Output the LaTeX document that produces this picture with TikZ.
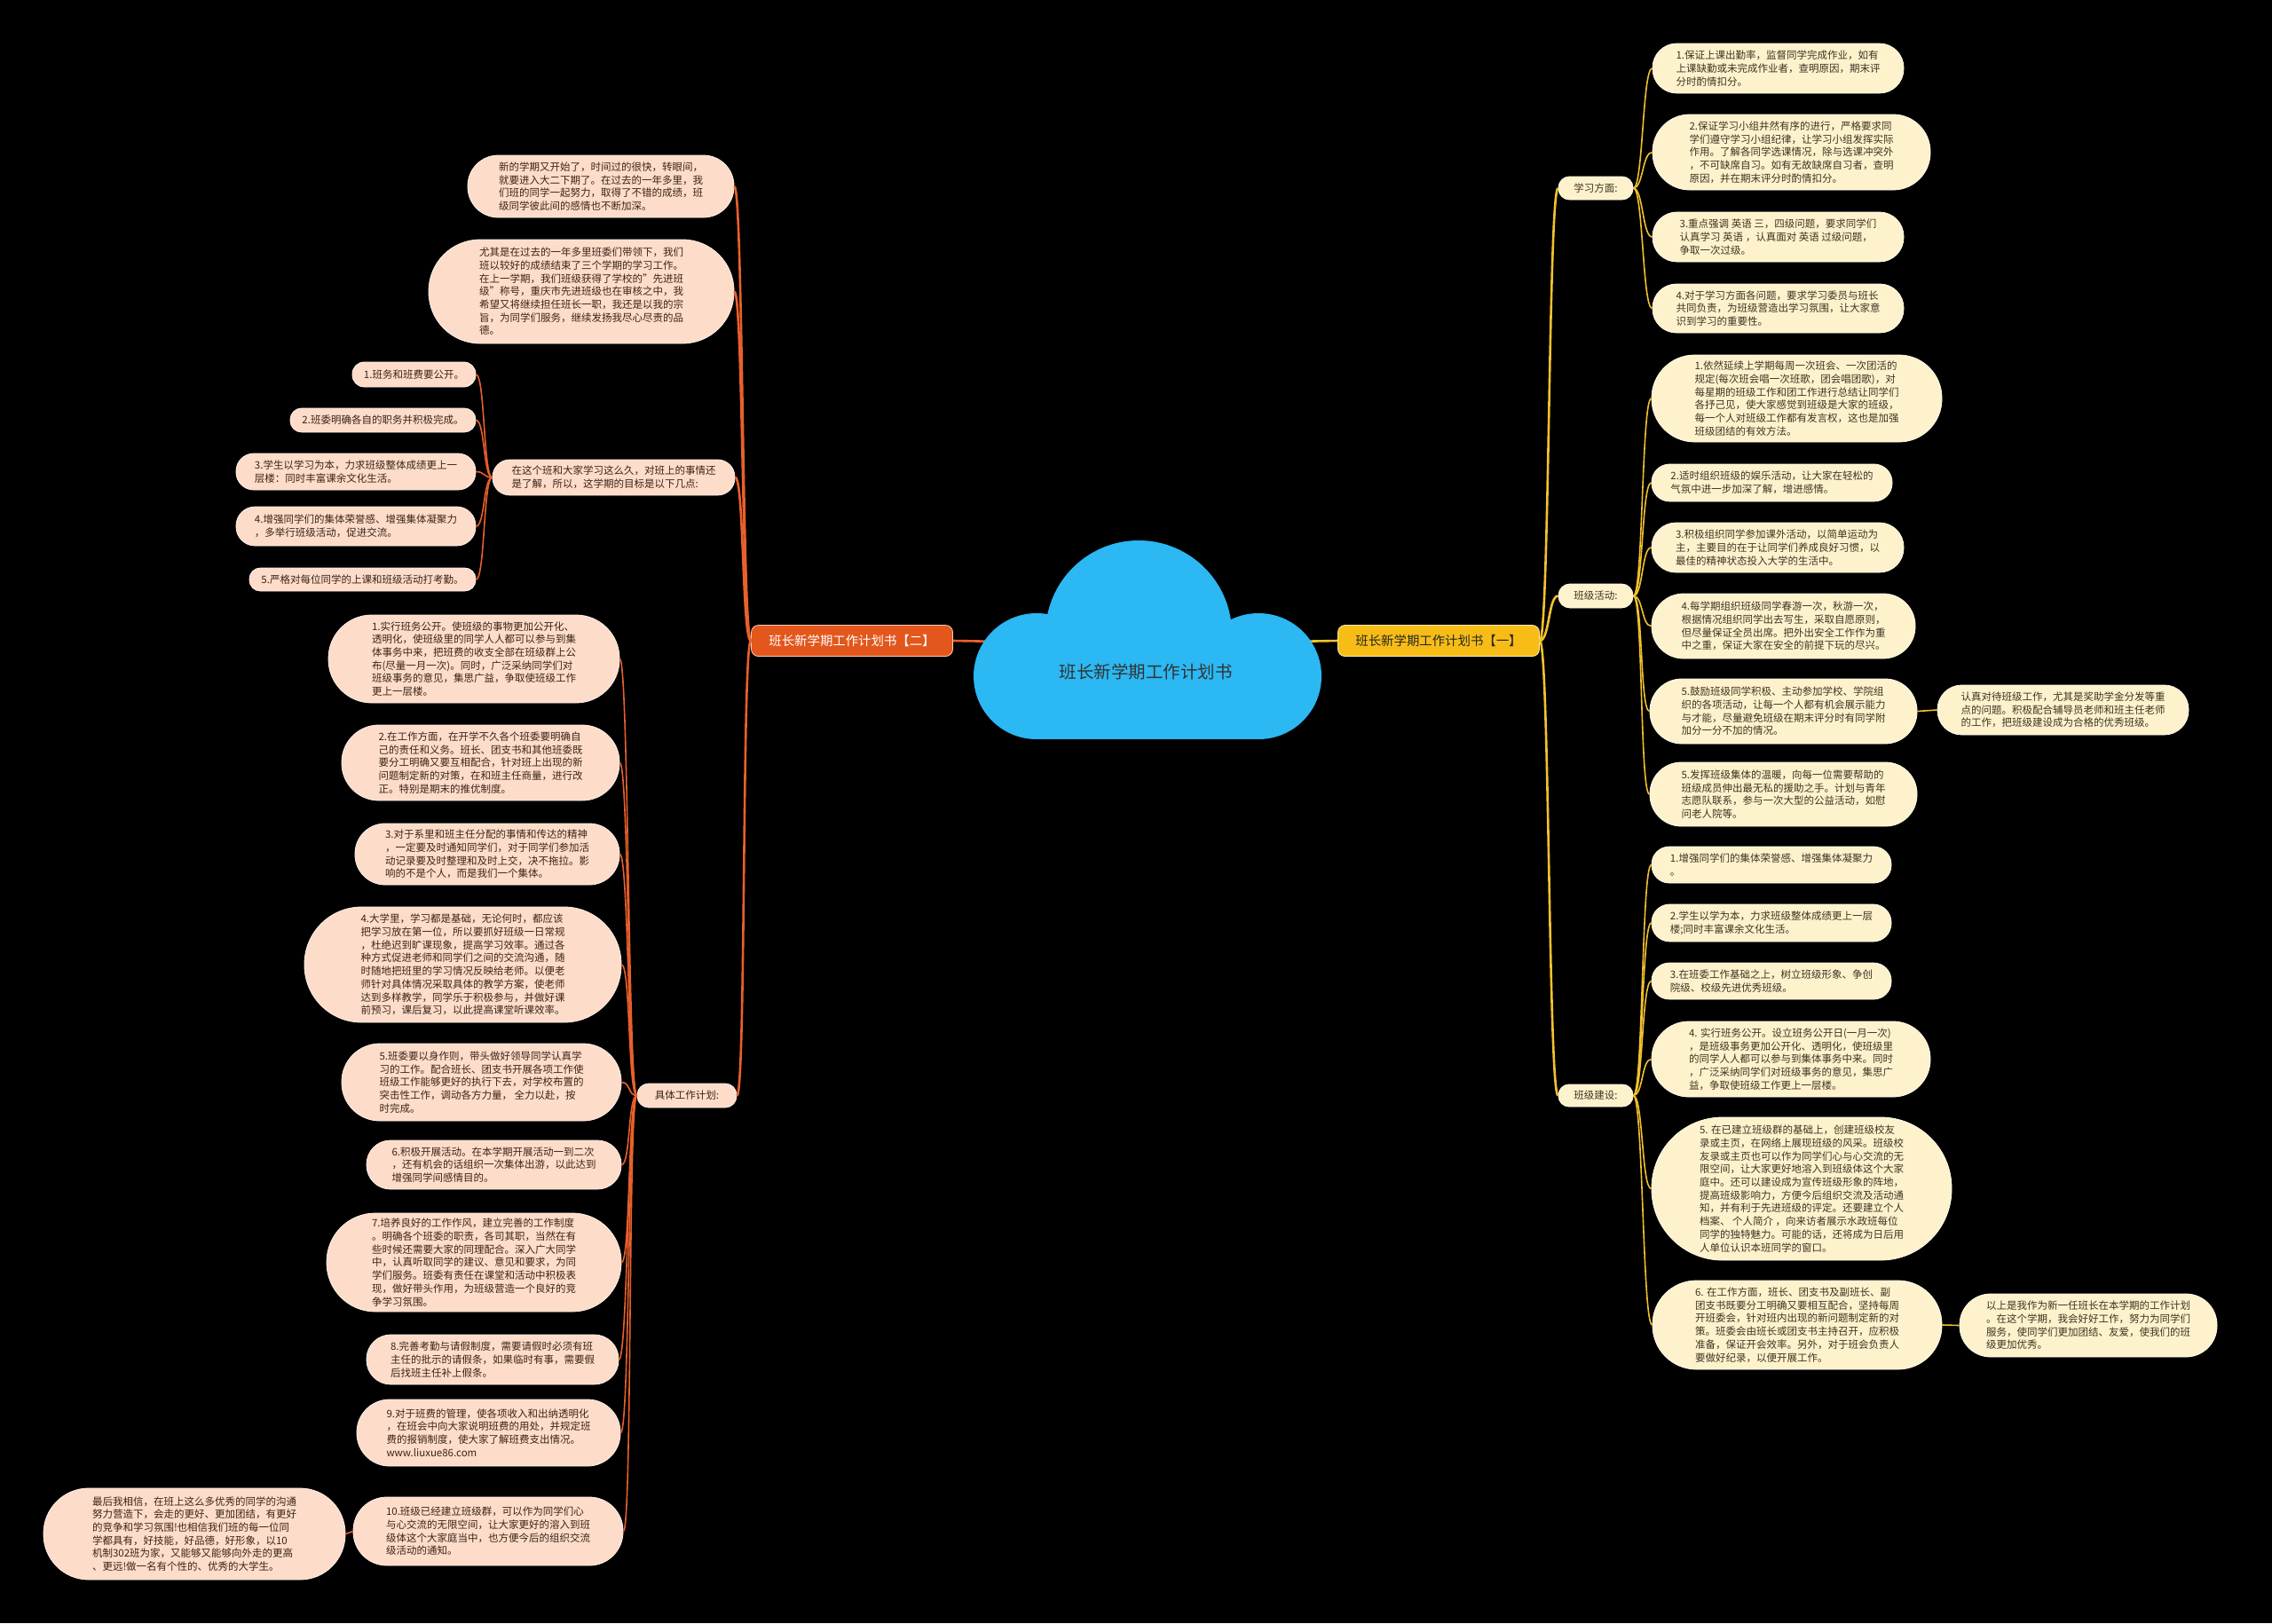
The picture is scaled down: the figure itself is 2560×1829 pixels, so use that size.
\documentclass[tikz,border=0pt]{standalone}
\usepackage{fontspec}
\setmainfont{Noto Sans CJK SC}
\definecolor{lfill}{HTML}{FDDCC9}
\definecolor{lbord}{HTML}{FFF1E8}
\definecolor{ltext}{HTML}{3A2418}
\definecolor{lline}{HTML}{E8602C}
\definecolor{rfill}{HTML}{FEF2CD}
\definecolor{rbord}{HTML}{FFFBEA}
\definecolor{rtext}{HTML}{3D3420}
\definecolor{rline}{HTML}{F2C12E}
\definecolor{mtwo}{HTML}{E3561C}
\definecolor{mone}{HTML}{F7BD16}
\definecolor{cloudc}{HTML}{2BB8F3}
\newcommand\mm[7]{\node[#1, minimum width={#5-#3}, minimum height={#6-#4}, rounded corners={(#6-#4)/2-0.6}] (#2) at ({(#3+#5)/2},{(#4+#6)/2}) {#7};}
\begin{document}
\begin{tikzpicture}[x=1pt,y=-1pt,
  every node/.style={inner sep=0pt, align=left, font=\fontsize{11.5}{14.7}\selectfont},
  lbox/.style={fill=lfill, draw=lbord, line width=0.8pt, text=ltext},
  rbox/.style={fill=rfill, draw=rbord, line width=0.8pt, text=rtext},
  lc1/.style={draw=lline, line width=2.6pt},
  lc2/.style={draw=lline, line width=1.6pt},
  rc1/.style={draw=rline, line width=2.6pt},
  rc2/.style={draw=rline, line width=1.6pt},
  mainbox/.style={minimum width=227, minimum height=35, rounded corners=8, line width=0.8pt, align=center, font=\fontsize{14.4}{17}\selectfont}
]
\fill[black] (0,0) rectangle (2560,1829);
\useasboundingbox (0,0) rectangle (2560,1829);

% main nodes
\node[mainbox, fill=mtwo, draw=white!70!mtwo, text=white] (M2) at (960,722) {班长新学期工作计划书【二】};
\node[mainbox, fill=mone, draw=white!70!mone, text=black!85] (M1) at (1621,722) {班长新学期工作计划书【一】};
\coordinate (cloudL) at (1130,723);
\coordinate (cloudR) at (1455,723);

% ---------- left side ----------
\mm{lbox}{L1}{527}{175}{827}{245}{新的学期又开始了，时间过的很快，转眼间，\\就要进入大二下期了。在过去的一年多里，我\\们班的同学一起努力，取得了不错的成绩，班\\级同学彼此间的感情也不断加深。}
\mm{lbox}{L2}{483}{270}{827}{387}{尤其是在过去的一年多里班委们带领下，我们\\班以较好的成绩结束了三个学期的学习工作。\\在上一学期，我们班级获得了学校的"先进班\\级"称号，重庆市先进班级也在审核之中，我\\希望又将继续担任班长一职，我还是以我的宗\\旨，为同学们服务，继续发扬我尽心尽责的品\\德。}
\mm{lbox}{L3}{555}{518}{828}{558}{在这个班和大家学习这么久，对班上的事情还\\是了解，所以，这学期的目标是以下几点:}
\mm{lbox}{L3a}{397}{408}{536}{436}{1.班务和班费要公开。}
\mm{lbox}{L3b}{327}{460}{536}{487}{2.班委明确各自的职务并积极完成。}
\mm{lbox}{L3c}{266}{511}{536}{552}{3.学生以学习为本，力求班级整体成绩更上一\\层楼：同时丰富课余文化生活。}
\mm{lbox}{L3d}{266}{571}{536}{615}{4.增强同学们的集体荣誉感、增强集体凝聚力\\，多举行班级活动，促进交流。}
\mm{lbox}{L3e}{281}{640}{536}{666}{5.严格对每位同学的上课和班级活动打考勤。}
\mm{lbox}{L4}{718}{1221}{830}{1248}{具体工作计划:}
\mm{lbox}{D1}{370}{693}{698}{792}{1.实行班务公开。使班级的事物更加公开化、\\透明化，使班级里的同学人人都可以参与到集\\体事务中来，把班费的收支全部在班级群上公\\布(尽量一月一次)。同时，广泛采纳同学们对\\班级事务的意见，集思广益，争取使班级工作\\更上一层楼。}
\mm{lbox}{D2}{385}{817}{698}{902}{2.在工作方面，在开学不久各个班委要明确自\\己的责任和义务。班长、团支书和其他班委既\\要分工明确又要互相配合，针对班上出现的新\\问题制定新的对策，在和班主任商量，进行改\\正。特别是期末的推优制度。}
\mm{lbox}{D3}{400}{928}{698}{997}{3.对于系里和班主任分配的事情和传达的精神\\，一定要及时通知同学们，对于同学们参加活\\动记录要及时整理和及时上交，决不拖拉。影\\响的不是个人，而是我们一个集体。}
\mm{lbox}{D4}{343}{1022}{700}{1152}{4.大学里，学习都是基础，无论何时，都应该\\把学习放在第一位，所以要抓好班级一日常规\\，杜绝迟到旷课现象，提高学习效率。通过各\\种方式促进老师和同学们之间的交流沟通，随\\时随地把班里的学习情况反映给老师。以便老\\师针对具体情况采取具体的教学方案，使老师\\达到多样教学，同学乐于积极参与，并做好课\\前预习，课后复习，以此提高课堂听课效率。}
\mm{lbox}{D5}{385}{1176}{700}{1263}{5.班委要以身作则，带头做好领导同学认真学\\习的工作。配合班长、团支书开展各项工作使\\班级工作能够更好的执行下去，对学校布置的\\突击性工作，调动各方力量， 全力以赴，按\\时完成。}
\mm{lbox}{D6}{413}{1285}{700}{1340}{6.积极开展活动。在本学期开展活动一到二次\\，还有机会的话组织一次集体出游，以此达到\\增强同学间感情目的。}
\mm{lbox}{D7}{368}{1367}{700}{1478}{7.培养良好的工作作风，建立完善的工作制度\\。明确各个班委的职责，各司其职，当然在有\\些时候还需要大家的同理配合。深入广大同学\\中，认真听取同学的建议、意见和要求，为同\\学们服务。班委有责任在课堂和活动中积极表\\现，做好带头作用，为班级营造一个良好的竞\\争学习氛围。}
\mm{lbox}{D8}{413}{1504}{697}{1560}{8.完善考勤与请假制度，需要请假时必须有班\\主任的批示的请假条，如果临时有事，需要假\\后找班主任补上假条。}
\mm{lbox}{D9}{402}{1577}{699}{1652}{9.对于班费的管理，使各项收入和出纳透明化\\，在班会中向大家说明班费的用处，并规定班\\费的报销制度，使大家了解班费支出情况。\\www.liuxue86.com}
\mm{lbox}{D10}{398}{1687}{702}{1764}{10.班级已经建立班级群，可以作为同学们心\\与心交流的无限空间，让大家更好的溶入到班\\级体这个大家庭当中，也方便今后的组织交流\\级活动的通知。}
\mm{lbox}{F}{49}{1677}{389}{1780}{最后我相信，在班上这么多优秀的同学的沟通\\努力营造下，会走的更好、更加团结，有更好\\的竞争和学习氛围!也相信我们班的每一位同\\学都具有，好技能，好品德，好形象，以10\\机制302班为家，又能够又能够向外走的更高\\、更远!做一名有个性的、优秀的大学生。}

% ---------- right side ----------
\mm{rbox}{SC}{1756}{199}{1840}{225}{学习方面:}
\mm{rbox}{AC}{1756}{658}{1840}{685}{班级活动:}
\mm{rbox}{BC}{1756}{1222}{1840}{1247}{班级建设:}
\mm{rbox}{S1}{1862}{49}{2145}{105}{1.保证上课出勤率，监督同学完成作业，如有\\上课缺勤或未完成作业者，查明原因，期末评\\分时酌情扣分。}
\mm{rbox}{S2}{1862}{129}{2175}{214}{2.保证学习小组井然有序的进行，严格要求同\\学们遵守学习小组纪律，让学习小组发挥实际\\作用。了解各同学选课情况，除与选课冲突外\\，不可缺席自习。如有无故缺席自习者，查明\\原因，并在期末评分时酌情扣分。}
\mm{rbox}{S3}{1862}{239}{2145}{295}{3.重点强调 英语 三，四级问题，要求同学们\\认真学习 英语 ，认真面对 英语 过级问题，\\争取一次过级。}
\mm{rbox}{S4}{1862}{320}{2145}{375}{4.对于学习方面各问题，要求学习委员与班长\\共同负责，为班级营造出学习氛围，让大家意\\识到学习的重要性。}
\mm{rbox}{A1}{1861}{400}{2188}{498}{1.依然延续上学期每周一次班会、一次团活的\\规定(每次班会唱一次班歌，团会唱团歌)，对\\每星期的班级工作和团工作进行总结让同学们\\各抒己见，使大家感觉到班级是大家的班级，\\每一个人对班级工作都有发言权，这也是加强\\班级团结的有效方法。}
\mm{rbox}{A2}{1861}{523}{2132}{565}{2.适时组织班级的娱乐活动，让大家在轻松的\\气氛中进一步加深了解，增进感情。}
\mm{rbox}{A3}{1861}{589}{2145}{645}{3.积极组织同学参加课外活动，以简单运动为\\主，主要目的在于让同学们养成良好习惯，以\\最佳的精神状态投入大学的生活中。}
\mm{rbox}{A4}{1861}{669}{2158}{742}{4.每学期组织班级同学春游一次，秋游一次，\\根据情况组织同学出去写生，采取自愿原则，\\但尽量保证全员出席。把外出安全工作作为重\\中之重，保证大家在安全的前提下玩的尽兴。}
\mm{rbox}{A5}{1859}{765}{2160}{838}{5.鼓励班级同学积极、主动参加学校、学院组\\织的各项活动，让每一个人都有机会展示能力\\与才能，尽量避免班级在期末评分时有同学附\\加分一分不加的情况。}
\mm{rbox}{A5c}{2183}{772}{2466}{828}{认真对待班级工作，尤其是奖助学金分发等重\\点的问题。积极配合辅导员老师和班主任老师\\的工作，把班级建设成为合格的优秀班级。}
\mm{rbox}{A6}{1859}{859}{2160}{931}{5.发挥班级集体的温暖，向每一位需要帮助的\\班级成员伸出最无私的援助之手。计划与青年\\志愿队联系，参与一次大型的公益活动，如慰\\问老人院等。}
\mm{rbox}{B1}{1861}{954}{2131}{995}{1.增强同学们的集体荣誉感、增强集体凝聚力\\。}
\mm{rbox}{B2}{1861}{1019}{2131}{1061}{2.学生以学为本，力求班级整体成绩更上一层\\楼;同时丰富课余文化生活。}
\mm{rbox}{B3}{1861}{1085}{2131}{1126}{3.在班委工作基础之上，树立班级形象、争创\\院级、校级先进优秀班级。}
\mm{rbox}{B4}{1861}{1151}{2175}{1236}{4. 实行班务公开。设立班务公开日(一月一次)\\，是班级事务更加公开化、透明化，使班级里\\的同学人人都可以参与到集体事务中来。同时\\，广泛采纳同学们对班级事务的意见，集思广\\益，争取使班级工作更上一层楼。}
\mm{rbox}{B5}{1861}{1259}{2199}{1420}{5. 在已建立班级群的基础上，创建班级校友\\录或主页，在网络上展现班级的风采。班级校\\友录或主页也可以作为同学们心与心交流的无\\限空间，让大家更好地溶入到班级体这个大家\\庭中。还可以建设成为宣传班级形象的阵地，\\提高班级影响力，方便今后组织交流及活动通\\知，并有利于先进班级的评定。还要建立个人\\档案、 个人简介 ，向来访者展示水政班每位\\同学的独特魅力。可能的话，还将成为日后用\\人单位认识本班同学的窗口。}
\mm{rbox}{B6}{1862}{1443}{2188}{1543}{6. 在工作方面，班长、团支书及副班长、副\\团支书既要分工明确又要相互配合，坚持每周\\开班委会，针对班内出现的新问题制定新的对\\策。班委会由班长或团支书主持召开，应积极\\准备，保证开会效率。另外，对于班会负责人\\要做好纪录，以便开展工作。}
\mm{rbox}{B6c}{2208}{1458}{2498}{1529}{以上是我作为新一任班长在本学期的工作计划\\。在这个学期，我会好好工作，努力为同学们\\服务，使同学们更加团结、友爱，使我们的班\\级更加优秀。}

% ---------- connectors left ----------
\foreach \c in {L1,L2,L3,L4}
  \draw[lc1] (M2.west) .. controls +(-10,0) and +(10,0) .. (\c.east);
\foreach \c in {L3a,L3b,L3c,L3d,L3e}
  \draw[lc2] (L3.west) .. controls +(-10,0) and +(10,0) .. (\c.east);
\foreach \c in {D1,D2,D3,D4,D5,D6,D7,D8,D9,D10}
  \draw[lc2] (L4.west) .. controls +(-10,0) and +(10,0) .. (\c.east);
\draw[lc2] (D10.west) -- (F.east);

% ---------- connectors right ----------
\foreach \c in {SC,AC,BC}
  \draw[rc1] (M1.east) .. controls +(11,0) and +(-11,0) .. (\c.west);
\foreach \c in {S1,S2,S3,S4}
  \draw[rc2] (SC.east) .. controls +(11,0) and +(-11,0) .. (\c.west);
\foreach \c in {A1,A2,A3,A4,A5,A6}
  \draw[rc2] (AC.east) .. controls +(11,0) and +(-11,0) .. (\c.west);
\foreach \c in {B1,B2,B3,B4,B5,B6}
  \draw[rc2] (BC.east) .. controls +(11,0) and +(-11,0) .. (\c.west);
\draw[rc2] (A5.east) -- (A5c.west);
\draw[rc2] (B6.east) -- (B6c.west);

% cloud connectors
\draw[lc1] (M2.east) -- (cloudL);
\draw[rc1] (M1.west) -- (cloudR);

% ---------- cloud ----------
\fill[cloudc] (1283,714) circle (105);
\fill[cloudc] (1168,762) circle (71);
\fill[cloudc] (1418,762) circle (71);
\fill[cloudc] (1168,700) rectangle (1418,833);
\node[text=black!80, font=\fontsize{19.5}{23}\selectfont] (C) at (1291,757) {班长新学期工作计划书};
\end{tikzpicture}
\end{document}
